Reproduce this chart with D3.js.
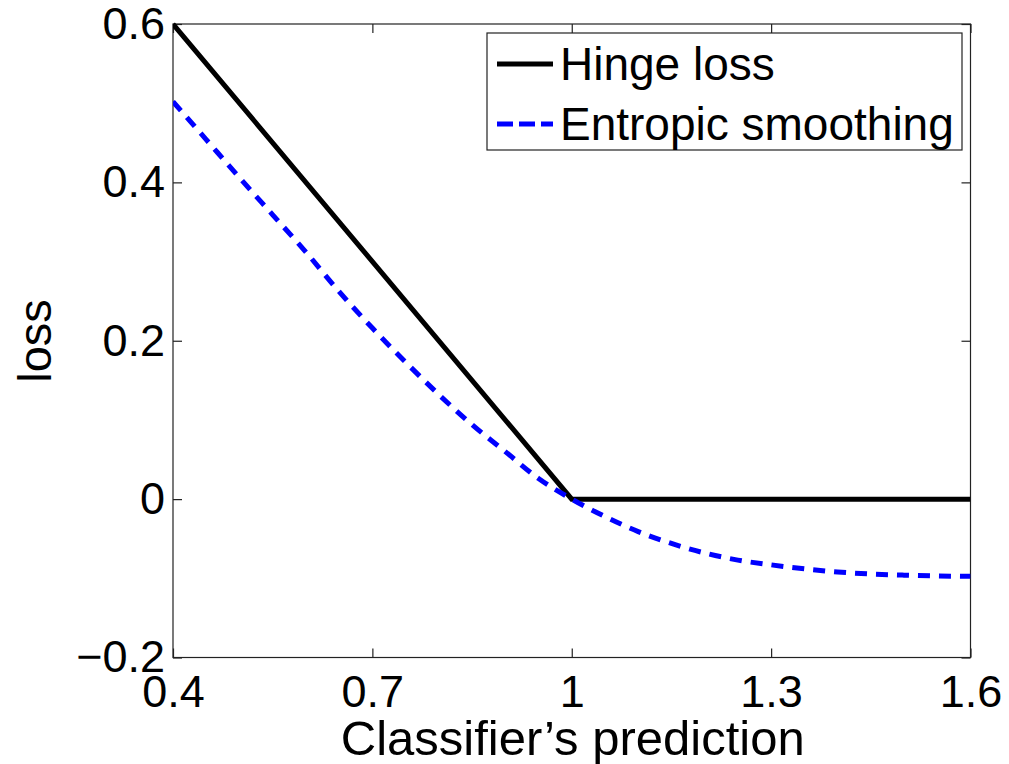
<!DOCTYPE html>
<html>
<head>
<meta charset="utf-8">
<script src="https://cdn.jsdelivr.net/npm/d3@7"></script>
<style>
  html, body { margin: 0; padding: 0; background: #fff; }
  svg { display: block; }
  text { font-family: "Liberation Sans", Arial, sans-serif; fill: #000; }
</style>
</head>
<body>
<svg id="chart" width="1009" height="764"></svg>
<script>
// ---- data ----
const hingeX = [0.4, 1.0, 1.6];
const hingeY = [0.6, 0.0, 0.0];

const entropicX = [0.40, 0.45, 0.50, 0.55, 0.60, 0.65, 0.70, 0.75, 0.80, 0.85, 0.90, 0.95, 1.00,
                   1.05, 1.10, 1.15, 1.20, 1.25, 1.30, 1.35, 1.40, 1.45, 1.50, 1.55, 1.60];
const entropicY = [0.502, 0.454, 0.406, 0.359, 0.312, 0.262, 0.216, 0.173, 0.132, 0.094, 0.060, 0.026, 0.000,
                   -0.022, -0.041, -0.056, -0.068, -0.077, -0.083, -0.088, -0.092, -0.0945, -0.096, -0.097, -0.0975];

const xTicks = [0.4, 0.7, 1.0, 1.3, 1.6];
const xTickLabels = ["0.4", "0.7", "1", "1.3", "1.6"];
const yTicks = [-0.2, 0, 0.2, 0.4, 0.6];
const yTickLabels = ["\u22120.2", "0", "0.2", "0.4", "0.6"];

const seriesNames = ["Hinge loss", "Entropic smoothing"];
const xLabel = "Classifier\u2019s prediction";
const yLabel = "loss";

// ---- layout ----
const L = 173, R = 970.5, T = 24, B = 657.5;
const svg = d3.select("#chart");

const x = d3.scaleLinear().domain([0.4, 1.6]).range([L, R]);
const y = d3.scaleLinear().domain([-0.2, 0.6]).range([B, T]);

const axisColor = "#222";
const tickFont = 45;

// box
svg.append("rect")
  .attr("x", L).attr("y", T).attr("width", R - L).attr("height", B - T)
  .attr("fill", "#fff").attr("stroke", axisColor).attr("stroke-width", 1.2);

function styleAxis(g, showText) {
  g.select(".domain").remove();
  g.selectAll(".tick line").attr("stroke", axisColor).attr("stroke-width", 1.2);
  g.selectAll(".tick text")
    .style("font-size", tickFont + "px")
    .attr("fill", "#000")
    .style("display", showText ? null : "none");
}

svg.append("g").attr("transform", `translate(0,${B})`)
  .call(d3.axisBottom(x).tickValues(xTicks).tickFormat((d, i) => xTickLabels[i])
        .tickSizeInner(-9).tickSizeOuter(0).tickPadding(18))
  .call(g => styleAxis(g, true));

svg.append("g").attr("transform", `translate(0,${T})`)
  .call(d3.axisTop(x).tickValues(xTicks).tickSizeInner(-9).tickSizeOuter(0))
  .call(g => styleAxis(g, false));

svg.append("g").attr("transform", `translate(${L},0)`)
  .call(d3.axisLeft(y).tickValues(yTicks).tickFormat((d, i) => yTickLabels[i])
        .tickSizeInner(-9).tickSizeOuter(0).tickPadding(8))
  .call(g => styleAxis(g, true));

svg.append("g").attr("transform", `translate(${R},0)`)
  .call(d3.axisRight(y).tickValues(yTicks).tickSizeInner(-9).tickSizeOuter(0))
  .call(g => styleAxis(g, false));

// clip
svg.append("clipPath").attr("id", "clip")
  .append("rect").attr("x", L).attr("y", T - 3).attr("width", R - L).attr("height", B - T + 6);

const plot = svg.append("g").attr("clip-path", "url(#clip)");

const line = d3.line().x(d => x(d[0])).y(d => y(d[1]));
const smooth = d3.line().x(d => x(d[0])).y(d => y(d[1])).curve(d3.curveMonotoneX);

plot.append("path")
  .datum(hingeX.map((v, i) => [v, hingeY[i]]))
  .attr("d", line)
  .attr("fill", "none").attr("stroke", "#000").attr("stroke-width", 5)
  .attr("stroke-linejoin", "miter");

plot.append("path")
  .datum(entropicX.map((v, i) => [v, entropicY[i]]))
  .attr("d", smooth)
  .attr("fill", "none").attr("stroke", "#0000ff").attr("stroke-width", 5)
  .attr("stroke-dasharray", "12,9");

// axis labels
svg.append("text")
  .attr("x", (L + R) / 2 + 1).attr("y", 755)
  .attr("text-anchor", "middle")
  .style("font-size", "49px")
  .text(xLabel);

svg.append("text")
  .attr("transform", `translate(51,341) rotate(-90)`)
  .attr("text-anchor", "middle")
  .style("font-size", "47px")
  .text(yLabel);

// legend
const lg = svg.append("g");
lg.append("rect")
  .attr("x", 487).attr("y", 33).attr("width", 475).attr("height", 117)
  .attr("fill", "#fff").attr("stroke", axisColor).attr("stroke-width", 1.2);

const rows = [
  { name: seriesNames[0], color: "#000", dash: null, cy: 64 },
  { name: seriesNames[1], color: "#0000ff", dash: "16,6", cy: 124 }
];
rows.forEach(r => {
  lg.append("line")
    .attr("x1", 497).attr("x2", 553).attr("y1", r.cy).attr("y2", r.cy)
    .attr("stroke", r.color).attr("stroke-width", 5)
    .attr("stroke-dasharray", r.dash);
  lg.append("text")
    .attr("x", 560).attr("y", r.cy + 16)
    .style("font-size", "46px")
    .text(r.name);
});
</script>
</body>
</html>
